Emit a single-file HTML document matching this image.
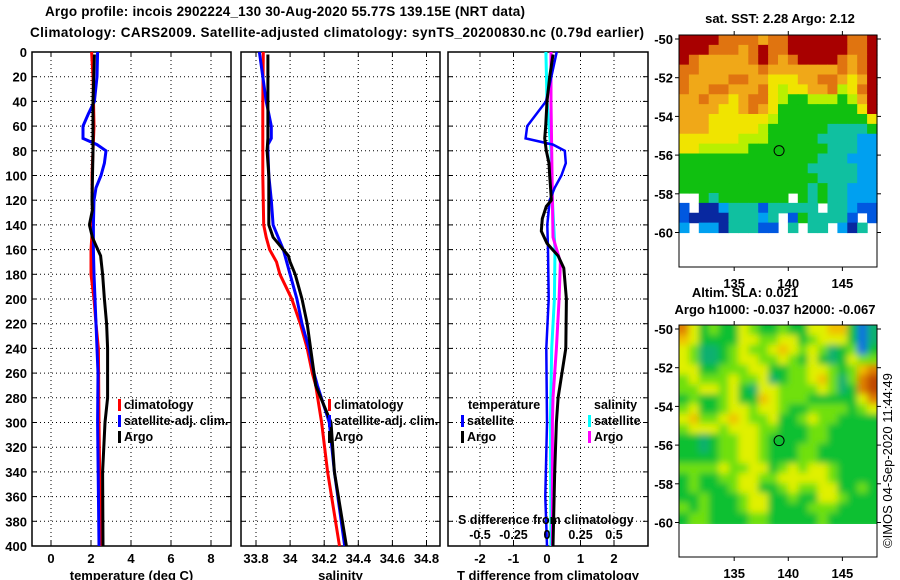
<!DOCTYPE html>
<html><head><meta charset="utf-8"><style>
html,body{margin:0;padding:0;background:#fff;}
svg{display:block;font-family:"Liberation Sans",Arial,sans-serif;font-weight:bold;}
</style></head><body>
<svg id="c" width="900" height="580" viewBox="0 0 900 580" xmlns="http://www.w3.org/2000/svg">
<defs>
<filter id="blur" x="-5%" y="-5%" width="110%" height="110%"><feGaussianBlur stdDeviation="3.5"/></filter>
<clipPath id="slaclip"><rect x="679" y="325" width="198" height="199"/></clipPath>
</defs>
</svg>
<script>
// ---------------- DATA ----------------
const tempClimDepth = [0,20,60,100,140,160,180,200,220,240,260,300,360,400];
const tempClim      = [2.03,2.1,2.15,2.05,2.08,2.0,2.0,2.15,2.25,2.37,2.38,2.4,2.45,2.45];
const tempSatDepth  = [0,20,40,50,60,70,75,80,90,100,110,120,140,160,180,200,220,240,260,300,400];
const tempSat       = [2.33,2.3,2.17,1.87,1.6,1.6,2.3,2.75,2.67,2.5,2.25,2.15,2.12,2.12,2.15,2.2,2.25,2.3,2.35,2.33,2.4];
const tempArgoDepth = [2,40,80,120,128,140,150,155,165,180,200,220,240,280,300,340,400];
const tempArgo      = [2.17,2.1,2.1,2.05,2.07,1.92,2.07,2.2,2.48,2.58,2.67,2.78,2.83,2.83,2.7,2.58,2.6];

const salClimDepth = [0,40,100,140,150,160,170,180,200,220,240,260,270,300,340,400];
const salClim      = [33.843,33.84,33.84,33.845,33.86,33.88,33.92,33.94,34.01,34.06,34.1,34.13,34.15,34.185,34.22,34.29];
const salSatDepth  = [0,20,40,50,60,70,75,80,100,120,140,150,160,180,200,220,240,260,270,300,340,400];
const salSat       = [33.82,33.84,33.86,33.875,33.89,33.89,33.87,33.87,33.875,33.89,33.9,33.93,33.96,34.0,34.04,34.07,34.11,34.14,34.16,34.23,34.26,34.32];
const salArgoDepth = [2,70,80,100,140,150,155,165,170,180,200,220,240,260,270,300,340,400];
const salArgo      = [33.87,33.87,33.865,33.875,33.875,33.9,33.93,33.99,34.0,34.03,34.07,34.1,34.12,34.14,34.15,34.24,34.26,34.33];

const dTSatDepth  = [0,40,50,60,70,75,80,90,100,110,120,140,160,200,240,300,360,400];
const dTSat       = [0.29,-0.03,-0.31,-0.59,-0.64,0.18,0.53,0.56,0.43,0.23,0.08,0.01,0.03,0.05,-0.02,0,-0.05,0];
const dTArgoDepth = [2,20,40,60,70,80,90,100,120,125,135,145,155,165,175,200,240,280,300,340,400];
const dTArgo      = [0.18,0.08,0,-0.04,-0.07,-0.02,0.06,0.08,0.13,-0.02,-0.14,-0.17,0,0.33,0.5,0.58,0.56,0.33,0.28,0.23,0.18];
const dSSatDepth  = [0,40,80,120,160,200,240,300,400];
const dSSat       = [-0.008,0,0.03,0.04,0.06,0.055,0.035,0.025,0.03];
const dSArgoDepth = [0,40,80,120,150,170,200,240,280,300,400];
const dSArgo      = [0.03,0.03,0.035,0.04,0.045,0.1,0.09,0.07,0.045,0.04,0.04];

const depthTicks = [0,20,40,60,80,100,120,140,160,180,200,220,240,260,280,300,320,340,360,380,400];
const tempTicks = [0,2,4,6,8];
const salTicks = [33.8,34,34.2,34.4,34.6,34.8];
const salTickLabels = ["33.8","34","34.2","34.4","34.6","34.8"];
const dTTicks = [-2,-1,0,1,2];
const dSTicks = [-0.5,-0.25,0,0.25,0.5];
const dSTickLabels = ["-0.5","-0.25","0","0.25","0.5"];

const latTicks = [-50,-52,-54,-56,-58,-60];
const lonTicks = [135,140,145];
const argoLat = -55.77, argoLon = 139.15;

const sstGrid = [
[9,9,9,9,8,8,8,8,7,8,8,9,9,9,9,9,9,8,8,9],
[9,9,9,8,8,8,7,8,9,8,8,9,9,9,9,9,9,8,8,9],
[9,8,7,7,7,7,7,8,9,8,7,8,9,9,9,9,8,7,8,9],
[8,8,7,7,7,7,7,7,8,7,7,7,7,7,7,7,8,7,8,9],
[8,7,7,7,7,8,8,7,7,6,6,6,7,7,8,8,7,6,7,9],
[8,7,7,8,8,7,7,7,8,6,5,6,6,7,7,8,5,6,8,9],
[7,7,8,7,7,6,7,8,8,6,5,4,4,5,5,5,4,5,7,9],
[7,7,7,7,6,6,7,8,7,6,4,4,4,4,4,4,4,4,6,9],
[7,7,7,6,6,6,6,6,6,5,4,4,4,4,4,4,4,4,4,6],
[7,7,7,6,6,6,6,6,5,4,4,4,4,4,4,3,3,3,3,4],
[6,6,6,6,6,6,5,5,5,4,4,4,4,4,3,3,3,3,2,2],
[6,6,5,5,5,5,5,4,4,4,4,4,4,4,4,3,3,3,2,2],
[4,4,4,4,4,4,4,4,4,4,4,4,4,4,3,3,3,2,2,2],
[4,4,4,4,4,4,4,4,4,4,4,4,4,3,3,3,3,3,2,2],
[4,4,4,4,4,4,4,4,4,4,4,4,4,4,3,3,3,3,2,2],
[4,4,4,4,4,4,4,4,4,4,4,4,4,3,4,3,3,2,2,2],
[-1,-1,4,3,4,4,4,4,4,4,4,-1,4,3,4,3,3,2,2,2],
[1,-1,0,0,2,3,3,3,1,3,3,3,3,3,-1,3,3,2,1,1],
[1,0,0,0,0,3,3,3,2,3,-1,1,4,3,3,3,3,1,-1,1],
[2,-1,2,2,0,3,3,3,1,1,-1,3,-1,3,3,-1,2,0,3,-1]
];
const slaGrid = [
[5,3,1,2,1,1,3,2,1,1,2,1,1,3,3,4,4,1,7,0],
[4,3,1,1,1,1,3,3,2,2,3,3,1,2,3,3,3,1,7,0],
[3,2,0,0,1,2,3,2,2,3,4,3,2,3,2,0,1,2,7,1],
[3,2,0,0,1,2,3,3,2,2,3,2,1,3,1,0,1,3,2,2],
[3,3,1,1,2,2,2,3,3,1,1,2,2,3,3,2,1,2,4,5],
[2,3,2,2,2,3,2,2,3,0,1,2,2,3,4,2,0,2,5,6],
[2,2,3,3,2,3,1,0,3,3,2,2,2,2,3,2,0,1,5,6],
[1,2,1,1,2,3,1,1,4,3,2,2,2,1,1,1,1,1,3,5],
[2,3,1,1,2,3,3,2,3,3,2,1,1,2,2,2,2,1,2,3],
[3,4,2,2,3,4,3,2,2,3,1,1,2,3,2,2,1,1,1,1],
[2,3,3,3,2,3,3,3,2,2,1,1,1,2,2,1,1,1,1,1],
[1,1,0,1,2,2,3,3,2,1,1,1,1,2,2,1,1,1,1,1],
[1,1,0,1,2,2,3,3,2,1,1,1,2,2,1,1,1,1,1,1],
[1,1,1,1,2,2,3,3,2,1,1,1,2,2,1,1,1,1,1,1],
[2,2,2,2,3,2,2,3,3,1,2,3,2,3,3,2,1,1,1,1],
[1,2,1,1,2,2,3,3,2,2,3,3,3,3,3,2,1,1,1,1],
[1,2,1,1,1,2,3,3,1,1,2,3,2,2,3,3,1,1,2,1],
[1,1,2,1,1,1,2,3,3,1,1,2,1,1,3,3,2,1,1,1],
[2,1,2,1,1,1,2,3,3,1,1,1,1,2,2,2,1,1,1,1],
[1,2,2,1,1,1,1,2,2,1,1,1,1,1,2,1,1,1,1,1]
];
const sstColors = ["#0828a0","#0058e0","#00a0f0","#10c0a0","#10c010","#b8f000","#f0e400","#f0a818","#e07410","#a80000"];
const slaColors = ["#10b070","#10c030","#70e010","#e0f000","#f0c000","#e08000","#c04800","#1070e0"];

// ---------------- DRAW ----------------
const NS="http://www.w3.org/2000/svg";
const svg=document.getElementById('c');
function mk(tag,attrs,parent){const e=document.createElementNS(NS,tag);for(const k in attrs)e.setAttribute(k,attrs[k]);(parent||svg).appendChild(e);return e;}
function txt(s,x,y,anchor,size,parent){const t=mk('text',{x:x,y:y,'text-anchor':anchor||'start','font-size':size||13,fill:'#000'},parent);t.textContent=s;return t;}

const TOP=52,BOT=546;
function yD(d){return TOP+(BOT-TOP)*d/400;}
const xT=v=>51+20*v;
const xS=v=>256+170.5*(v-33.8);
const xDT=v=>547+33.5*v;
const xDS=v=>547+134*v;

let t;
t=txt("Argo profile: incois 2902224_130 30-Aug-2020 55.77S 139.15E (NRT data)",45,16,'start',13.5);
t.setAttribute('textLength','480');


t=txt("Climatology: CARS2009. Satellite-adjusted climatology: synTS_20200830.nc (0.79d earlier)",30,37,'start',13.5);
t.setAttribute('textLength','614');



function panel(name,x0,x1,xticks,xfun,xlabels,xtitle,showY){
  const g=mk('g',{});
  
  
  xticks.forEach(v=>{const x=xfun(v);mk('line',{x1:x,y1:TOP,x2:x,y2:BOT,stroke:'#000','stroke-width':1,'stroke-dasharray':'1 3'},g);
    mk('line',{x1:x,y1:BOT,x2:x,y2:BOT-5,stroke:'#000'},g);mk('line',{x1:x,y1:TOP,x2:x,y2:TOP+5,stroke:'#000'},g);});
  depthTicks.forEach(d=>{const y=yD(d);mk('line',{x1:x0,y1:y,x2:x1,y2:y,stroke:'#000','stroke-width':1,'stroke-dasharray':'1 3'},g);
    mk('line',{x1:x0,y1:y,x2:x0+5,y2:y,stroke:'#000'},g);mk('line',{x1:x1,y1:y,x2:x1-5,y2:y,stroke:'#000'},g);
    if(showY){const l=txt(String(d),27,y+5,'end',13,g);}});
  mk('rect',{x:x0,y:TOP,width:x1-x0,height:BOT-TOP,fill:'none',stroke:'#000','stroke-width':1.5},g);
  xticks.forEach((v,i)=>{const l=txt(xlabels[i],xfun(v),563,'middle',13,g);});
  const tt=txt(xtitle,(x0+x1)/2,580,'middle',13,g);
  
  
  return g;
}
function series(name,depths,vals,xfun,color,w,parent){
  const pts=depths.map((d,i)=>xfun(vals[i]).toFixed(1)+','+yD(d).toFixed(1)).join(' ');
  const p=mk('polyline',{points:pts,fill:'none',stroke:color,'stroke-width':w,'stroke-linejoin':'miter'},parent);
  
  
}
function legendEntry(name,label,x,y,color,parent){
  const g=mk('g',{},parent);
  
  
  mk('rect',{x:x-6,y:y-10,width:3,height:12,fill:color},g);
  txt(label,x,y,'start',12.5,g);
}

const p1=panel('temperature-panel',32,231,tempTicks,xT,tempTicks.map(String),'temperature (deg C)',true);
series('temp-climatology-line',tempClimDepth,tempClim,xT,'#f00',3,p1);
series('temp-satellite-line',tempSatDepth,tempSat,xT,'#00f',3,p1);
series('temp-argo-line',tempArgoDepth,tempArgo,xT,'#000',3,p1);
legendEntry('legend-climatology','climatology',124,409,'#f00',p1);
legendEntry('legend-satellite','satellite-adj. clim.',124,425,'#00f',p1);
legendEntry('legend-argo','Argo',124,441,'#000',p1);

const p2=panel('salinity-panel',241,440,salTicks,xS,salTickLabels,'salinity',false);
series('sal-climatology-line',salClimDepth,salClim,xS,'#f00',3,p2);
series('sal-satellite-line',salSatDepth,salSat,xS,'#00f',3,p2);
series('sal-argo-line',salArgoDepth,salArgo,xS,'#000',3,p2);
legendEntry('legend-climatology-2','climatology',334,409,'#f00',p2);
legendEntry('legend-satellite-2','satellite-adj. clim.',334,425,'#00f',p2);
legendEntry('legend-argo-2','Argo',334,441,'#000',p2);

const p3=panel('difference-panel',448,648,dTTicks,xDT,dTTicks.map(String),'T difference from climatology',false);
series('dS-satellite-line',dSSatDepth,dSSat,xDS,'#0ff',3,p3);
series('dS-argo-line',dSArgoDepth,dSArgo,xDS,'#f0f',3,p3);
series('dT-satellite-line',dTSatDepth,dTSat,xDT,'#00f',2.5,p3);
series('dT-argo-line',dTArgoDepth,dTArgo,xDT,'#000',3,p3);
t=txt('temperature',468,409,'start',12.5,p3);
t=txt('salinity',594,409,'start',12.5,p3);
legendEntry('legend-dT-satellite','satellite',467,425,'#00f',p3);
legendEntry('legend-dT-argo','Argo',467,441,'#000',p3);
legendEntry('legend-dS-satellite','satellite',594,425,'#0ff',p3);
legendEntry('legend-dS-argo','Argo',594,441,'#f0f',p3);
t=txt('S difference from climatology',458,524,'start',12.5,p3);
dSTicks.forEach((v,i)=>{const l=txt(dSTickLabels[i],xDS(v),539,'middle',12.5,p3);});

// ---------------- MAPS ----------------
const MX0=679,MX1=877,LON0=129.9,LON1=148.2;
const mxL=lon=>MX0+(lon-LON0)*(MX1-MX0)/(LON1-LON0);
function map(name,top,bottom,grid,colors,smooth){
  const g=mk('g',{});
  
  
  const yL=lat=>top+4+(-50-lat)*19.35;
  const dataTop=top, dataBot=yL(-60);
  const rows=grid.length, cols=grid[0].length;
  const cw=(MX1-MX0)/cols, ch=(dataBot-dataTop)/rows;
  let cg=g;
  if(smooth){
    const clip=mk('g',{'clip-path':'url(#slaclip)'},g);
    cg=mk('g',{filter:'url(#blur)'},clip);
  }
  grid.forEach((row,r)=>row.forEach((v,c)=>{
    if(v<0)return;
    const pad=smooth?6:0;
    const x=MX0+c*cw-(c===0?pad:0), y=dataTop+r*ch-(r===0?pad:0);
    const w=cw+0.6+(c===0||c===cols-1?pad:0), h=ch+0.6+(r===0||r===rows-1?pad:0);
    const cell=mk('rect',{x:x.toFixed(2),y:y.toFixed(2),width:w.toFixed(2),height:h.toFixed(2),fill:colors[v]},cg);
    
    
  }));
  mk('rect',{x:MX0,y:top,width:MX1-MX0,height:bottom-top,fill:'none',stroke:'#000','stroke-width':1},g);
  latTicks.forEach(lat=>{const y=yL(lat);mk('line',{x1:MX0,y1:y,x2:MX0-4,y2:y,stroke:'#000'},g);mk('line',{x1:MX1,y1:y,x2:MX1+4,y2:y,stroke:'#000'},g);
    const l=txt(String(lat),673,y+5,'end',13,g);});
  lonTicks.forEach(lon=>{const x=mxL(lon);mk('line',{x1:x,y1:top,x2:x,y2:top-4,stroke:'#000'},g);mk('line',{x1:x,y1:bottom,x2:x,y2:bottom+4,stroke:'#000'},g);
    const l=txt(String(lon),x,bottom+21,'middle',13,g);});
  const ci=mk('circle',{cx:mxL(argoLon),cy:yL(argoLat),r:5,fill:'none',stroke:'#000','stroke-width':1},g);
  
  
  return g;
}
map('sst-map',35,267,sstGrid,sstColors,false);
map('sla-map',325,557,slaGrid,slaColors,true);
t=txt('sat. SST: 2.28 Argo: 2.12',780,23,'middle',13);
t=txt('Altim. SLA: 0.021',745,297,'middle',13);
t=txt('Argo h1000: -0.037 h2000: -0.067',775,314,'middle',13);
t=txt('©IMOS 04-Sep-2020 11:44:49',0,0,'start',13);
t.setAttribute('transform','translate(892,548) rotate(-90)');
t.setAttribute('font-weight','normal');


</script>
</body></html>
